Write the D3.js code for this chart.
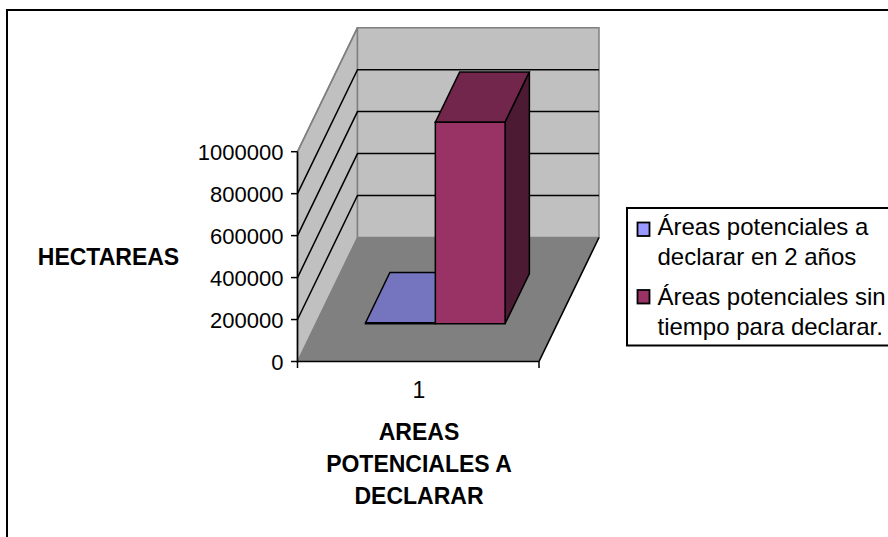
<!DOCTYPE html>
<html><head><meta charset="utf-8">
<script src="https://cdn.jsdelivr.net/npm/d3@7/dist/d3.min.js"></script>
<style>html,body{margin:0;padding:0;background:#fff}svg{display:block}text{font-family:"Liberation Sans",Arial,sans-serif;fill:#000}</style>
</head><body><svg id="c" width="888" height="537"></svg>
<script>
const categories = ["1"];
const seriesNames = ["Áreas potenciales a declarar en 2 años", "Áreas potenciales sin tiempo para declarar."];
const seriesValues = [5000, 960000];
const yTicks = [0, 200000, 400000, 600000, 800000, 1000000];
const seriesColors = ["#9999ff", "#993366"];
const topColors = ["#7474bf", "#72264c"];
const sideColors = ["#4d4d80", "#4c1a33"];
const legendLines = [["Áreas potenciales a", "declarar en 2 años"], ["Áreas potenciales sin", "tiempo para declarar."]];

const svg = d3.select("#c");
const y = d3.scaleLinear().domain([0, 1000000]).range([361.5, 151.7]);
const xFloor = d3.scaleLinear().domain([0, 1]).range([297.5, 539]);
const depthX = d3.scaleLinear().domain([0, 1]).range([0, 60]);
const depthY = d3.scaleLinear().domain([0, 1]).range([0, -124]);
const P = (fx, v, t) => [xFloor(fx) + depthX(t), y(v) + depthY(t)];
const poly = (pts, fill, stroke, sw) => svg.append("path").attr("d", d3.line()(pts) + "Z")
  .attr("fill", fill).attr("stroke", stroke || "none").attr("stroke-width", sw || 0).attr("stroke-linejoin", "miter");

// frame
svg.append("path").attr("d", "M7,537V10H888").attr("fill", "none").attr("stroke", "#000").attr("stroke-width", 2);

// walls and floor
poly([P(0,0,0), P(0,1e6,0), P(0,1e6,1), P(0,0,1)], "#c0c0c0", "#808080", 1.5);
poly([P(0,0,1), P(0,1e6,1), P(1,1e6,1), P(1,0,1)], "#c0c0c0", "#808080", 1.5);
poly([P(0,0,0), P(1,0,0), P(1,0,1), P(0,0,1)], "#808080");

// gridlines
yTicks.slice(1, -1).forEach(v => {
  svg.append("path").attr("d", d3.line()([P(0,v,0), P(0,v,1), P(1,v,1)]))
    .attr("fill", "none").attr("stroke", "#000").attr("stroke-width", 1.5);
});
svg.append("path").attr("d", d3.line()([P(0,1e6,0), P(0,1e6,1)])).attr("fill","none").attr("stroke","#808080").attr("stroke-width",1.5);
svg.append("path").attr("d", d3.line()([P(1,0,1), P(1,0,0), P(0,0,0)])).attr("fill","none").attr("stroke","#000").attr("stroke-width",1.6);

// bars
const band = d3.scaleBand().domain(seriesValues.map((_, i) => i)).range([0, 0.99]).paddingInner(0).paddingOuter(0.714);
const t0 = 0.305, t1 = 0.71;
seriesValues.forEach((v, i) => {
  const a = band(i), b = a + band.bandwidth();
  poly([P(a,v,t0), P(b,v,t0), P(b,v,t1), P(a,v,t1)], topColors[i], "#000", 1.5);
  poly([P(b,0,t0), P(b,0,t1), P(b,v,t1), P(b,v,t0)], sideColors[i], "#000", 1.5);
  poly([P(a,0,t0), P(b,0,t0), P(b,v,t0), P(a,v,t0)], seriesColors[i], "#000", 1.5);
});

// y axis
svg.append("line").attr("x1", P(0,0,0)[0]).attr("x2", P(0,0,0)[0]).attr("y1", y(0)+1).attr("y2", y(1e6)).attr("stroke", "#000").attr("stroke-width", 1.6);
yTicks.forEach(v => {
  svg.append("line").attr("x1", 291).attr("x2", 297.5).attr("y1", y(v)).attr("y2", y(v)).attr("stroke", "#000").attr("stroke-width", 1.5);
  svg.append("text").attr("x", 283.5).attr("y", y(v) + 8).attr("text-anchor", "end").attr("font-size", 22).text(v);
});
// x axis ticks
[0, 1].forEach(f => svg.append("line").attr("x1", xFloor(f)).attr("x2", xFloor(f)).attr("y1", 361.5).attr("y2", 368).attr("stroke", "#000").attr("stroke-width", 1.5));
svg.append("text").attr("x", 419).attr("y", 398).attr("text-anchor", "middle").attr("font-size", 23).text(categories[0]);

// axis titles
svg.append("text").attr("x", 108.5).attr("y", 265).attr("text-anchor", "middle").attr("font-size", 23).attr("font-weight", "bold").text("HECTAREAS");
["AREAS", "POTENCIALES A", "DECLARAR"].forEach((s, i) =>
  svg.append("text").attr("x", 419).attr("y", 439.5 + i * 32).attr("text-anchor", "middle").attr("font-size", 23).attr("font-weight", "bold").text(s));

// legend
svg.append("path").attr("d", "M888,208H627V345.5H888").attr("fill", "#fff").attr("stroke", "#000").attr("stroke-width", 2);
legendLines.forEach((lines, i) => {
  const top = [222.5, 290][i];
  svg.append("rect").attr("x", 637.5).attr("y", top).attr("width", 12).attr("height", 13.5).attr("fill", seriesColors[i]).attr("stroke", "#000").attr("stroke-width", 1.8);
  lines.forEach((s, j) => svg.append("text").attr("x", 657.5).attr("y", [235, 305][i] + j * 30).attr("font-size", 24).text(s));
});
</script></body></html>
